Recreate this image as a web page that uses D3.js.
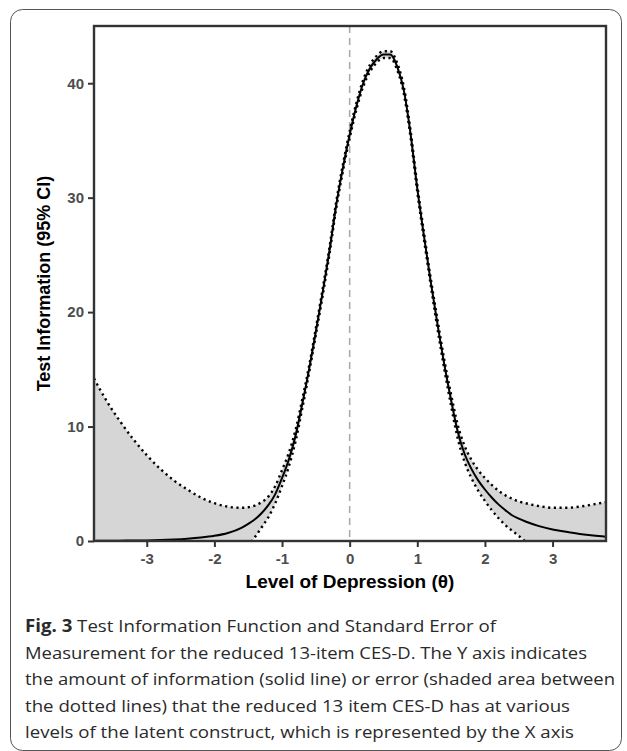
<!DOCTYPE html>
<html>
<head>
<meta charset="utf-8">
<script src="https://cdn.jsdelivr.net/npm/d3@7"></script>
<style>
  html, body { margin: 0; padding: 0; background: #fff; }
  #chart { width: 627px; height: 751px; }
  .caption { font-family: "Open Sans", Lato, sans-serif; font-size: 17px; fill: #2a2a2a; }
</style>
</head>
<body>
<div id="chart"></div>
<script>
// theta grid (level of depression)
const theta = [-3.78, -3.6, -3.4, -3.2, -3.0, -2.8, -2.6, -2.4, -2.2, -2.0, -1.8, -1.6,
  -1.5, -1.4, -1.3, -1.2, -1.1, -1.0, -0.9, -0.8, -0.7, -0.6, -0.5, -0.4, -0.3, -0.2, -0.1,
  0, 0.1, 0.2, 0.3, 0.4, 0.5, 0.6, 0.7, 0.8, 0.9, 1.0, 1.1, 1.2, 1.3, 1.4, 1.5, 1.6, 1.7,
  1.8, 1.9, 2.0, 2.1, 2.2, 2.3, 2.4, 2.5, 2.6, 2.8, 3.0, 3.2, 3.4, 3.6, 3.79];

// test information (solid line)
const info = [0.01, 0.02, 0.03, 0.04, 0.05, 0.08, 0.13, 0.2, 0.3, 0.45, 0.7, 1.15,
  1.5, 1.9, 2.45, 3.15, 4.1, 5.5, 7.1, 9.2, 12.0, 15.0, 18.3, 21.7, 25.3, 29.3, 32.6,
  35.5, 38.0, 40.0, 41.3, 42.1, 42.5, 42.5, 41.5, 39.4, 35.6, 30.8, 26.6, 22.6, 18.9, 15.4, 12.3, 9.5, 7.6,
  6.3, 5.3, 4.5, 3.8, 3.2, 2.7, 2.25, 1.95, 1.7, 1.3, 1.0, 0.8, 0.62, 0.48, 0.38];

// upper 95% CI (dotted)
const upper = [14.2, 12.3, 10.5, 8.9, 7.5, 6.3, 5.3, 4.5, 3.8, 3.3, 3.0, 2.9,
  2.95, 3.1, 3.4, 3.9, 4.8, 6.2, 7.7, 9.7, 12.4, 15.3, 18.6, 22.0, 25.6, 29.6, 32.9,
  35.8, 38.3, 40.3, 41.6, 42.4, 42.8, 42.8, 41.8, 39.7, 35.9, 31.1, 26.9, 22.9, 19.3, 15.8, 12.8, 10.1, 8.3,
  7.1, 6.2, 5.5, 4.9, 4.4, 4.0, 3.7, 3.45, 3.3, 3.05, 2.9, 2.9, 3.0, 3.2, 3.4];

// lower 95% CI (dotted, runs below zero and is clipped)
const lower = [-14, -12, -10, -8.5, -7.2, -6, -5, -4, -3.2, -2.4, -1.7, -1.0,
  -0.45, 0.35, 1.2, 2.1, 3.3, 4.8, 6.5, 8.7, 11.6, 14.7, 18.0, 21.4, 25.0, 29.0, 32.3,
  35.2, 37.7, 39.7, 41.0, 41.8, 42.2, 42.2, 41.2, 39.1, 35.3, 30.5, 26.3, 22.3, 18.5, 15.0, 11.8, 8.9, 6.9,
  5.5, 4.4, 3.5, 2.7, 2.0, 1.4, 0.9, 0.45, -0.05, -0.8, -1.4, -1.8, -2.0, -2.1, -2.2];

const xTicks = [-3, -2, -1, 0, 1, 2, 3];
const yTicks = [0, 10, 20, 30, 40];

// caption lines: [bold lead, rest, line width in px]
const captionLines = [
  ["Fig. 3", " Test Information Function and Standard Error of", 471],
  ["", "Measurement for the reduced 13-item CES-D. The Y axis indicates", 562],
  ["", "the amount of information (solid line) or error (shaded area between", 590],
  ["", "the dotted lines) that the reduced 13 item CES-D has at various", 545],
  ["", "levels of the latent construct, which is represented by the X axis", 549]
];

function renderChart(containerId) {
  const width = 627;
  const height = 751;
  const panel = { left: 94, right: 606, top: 26, bottom: 541 };

  const svg = d3.select(`#${containerId}`)
    .append("svg")
    .attr("width", width)
    .attr("height", height);

  // outer figure box
  svg.append("rect")
    .attr("x", 10.5).attr("y", 9.5)
    .attr("width", 611).attr("height", 741)
    .attr("rx", 12).attr("ry", 12)
    .attr("fill", "none")
    .attr("stroke", "#555")
    .attr("stroke-width", 1);

  const x = d3.scaleLinear().domain([-3.78, 3.79]).range([panel.left, panel.right]);
  const y = d3.scaleLinear().domain([0, 45]).range([panel.bottom, panel.top]);

  const data = theta.map((t, i) => ({ t, info: info[i], lo: lower[i], hi: upper[i] }));

  svg.append("clipPath").attr("id", "panel-clip")
    .append("rect")
    .attr("x", panel.left).attr("y", panel.top)
    .attr("width", panel.right - panel.left)
    .attr("height", panel.bottom - panel.top);

  const g = svg.append("g").attr("clip-path", "url(#panel-clip)");

  // --- shaded CI ribbon ---
  const area = d3.area()
    .x((d) => x(d.t))
    .y0((d) => y(d.lo))
    .y1((d) => y(d.hi))
    .curve(d3.curveMonotoneX);

  g.append("path")
    .datum(data)
    .attr("d", area)
    .attr("fill", "#d6d6d6");

  // dashed reference line at theta = 0
  g.append("line")
    .attr("x1", x(0)).attr("x2", x(0))
    .attr("y1", panel.top).attr("y2", panel.bottom)
    .attr("stroke", "#aaa")
    .attr("stroke-width", 1.6)
    .attr("stroke-dasharray", "7,5");

  const lineOf = (key) => d3.line()
    .x((d) => x(d.t))
    .y((d) => y(d[key]))
    .curve(d3.curveMonotoneX);

  // dotted CI bounds
  ["lo", "hi"].forEach((key) => {
    g.append("path")
      .datum(data)
      .attr("d", lineOf(key))
      .attr("fill", "none")
      .attr("stroke", "#000")
      .attr("stroke-width", 2.4)
      .attr("stroke-dasharray", "2.2,3.5");
  });

  // information curve
  g.append("path")
    .datum(data)
    .attr("d", lineOf("info"))
    .attr("fill", "none")
    .attr("stroke", "#000")
    .attr("stroke-width", 2);

  // --- axes ---
  const xAxis = svg.append("g")
    .attr("transform", `translate(0,${panel.bottom})`)
    .call(d3.axisBottom(x).tickValues(xTicks).tickSize(6).tickPadding(6).tickFormat(d3.format("d")));

  const yAxis = svg.append("g")
    .attr("transform", `translate(${panel.left},0)`)
    .call(d3.axisLeft(y).tickValues(yTicks).tickSize(6).tickPadding(4));

  [xAxis, yAxis].forEach((ax) => {
    ax.select(".domain").remove();
    ax.selectAll(".tick line").attr("stroke", "#333").attr("stroke-width", 2);
    ax.selectAll(".tick text")
      .attr("fill", "#4d4d4d")
      .style("font-family", "'Liberation Sans', Arial, sans-serif")
      .style("font-size", "15px")
      .style("font-weight", "bold");
  });
  xAxis.selectAll(".tick text").text((d) => (d < 0 ? "-" + Math.abs(d) : d));

  // panel border
  svg.append("rect")
    .attr("x", panel.left).attr("y", panel.top)
    .attr("width", panel.right - panel.left)
    .attr("height", panel.bottom - panel.top)
    .attr("fill", "none")
    .attr("stroke", "#333")
    .attr("stroke-width", 2.4);

  // --- axis titles ---
  svg.append("text")
    .attr("x", (panel.left + panel.right) / 2)
    .attr("y", 588)
    .attr("text-anchor", "middle")
    .style("font-family", "'Liberation Sans', Arial, sans-serif")
    .style("font-size", "19px")
    .style("font-weight", "bold")
    .text("Level of Depression (\u03b8)");

  svg.append("text")
    .attr("transform", `translate(50,${(panel.top + panel.bottom) / 2}) rotate(-90)`)
    .attr("text-anchor", "middle")
    .style("font-family", "'Liberation Sans', Arial, sans-serif")
    .style("font-size", "18px")
    .style("font-weight", "bold")
    .text("Test Information (95% CI)");

  // --- caption ---
  const cap = svg.append("g").attr("class", "caption");
  captionLines.forEach(([bold, rest, w], i) => {
    const t = cap.append("text")
      .attr("x", 25)
      .attr("y", 632 + i * 26.5)
      .attr("textLength", w)
      .attr("lengthAdjust", "spacingAndGlyphs");
    if (bold) t.append("tspan").style("font-weight", "bold").text(bold);
    t.append("tspan").text(rest);
  });
}

renderChart("chart");
</script>
</body>
</html>
